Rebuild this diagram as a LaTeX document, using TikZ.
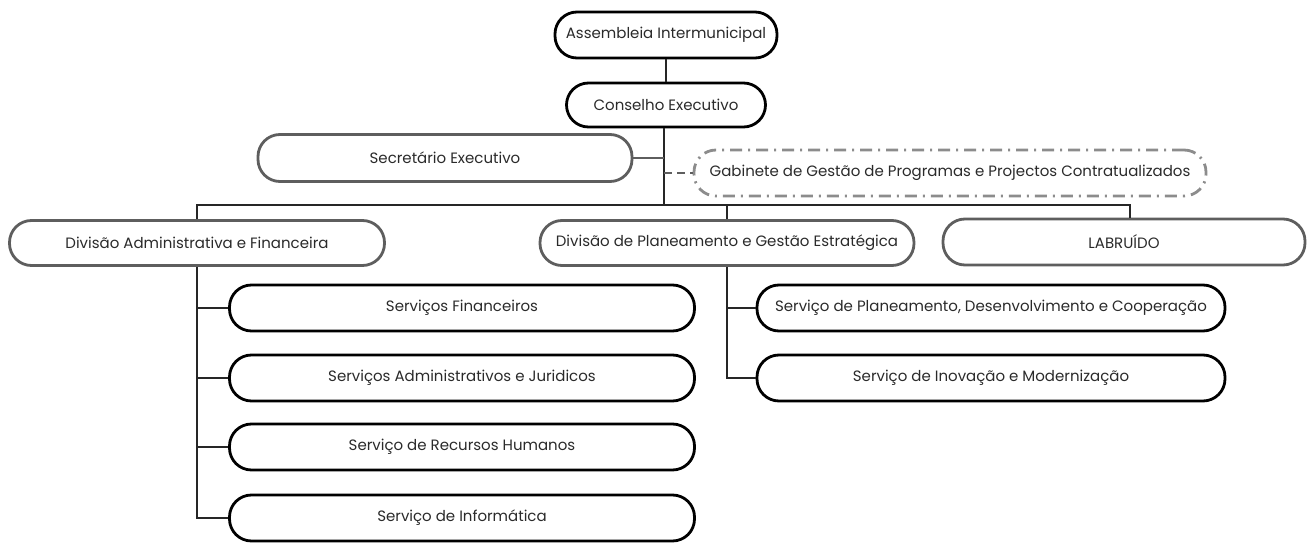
\documentclass[tikz,border=0pt]{standalone}
\usepackage{fontspec}
\setmainfont{Poppins}
\definecolor{boxgray}{HTML}{5E5E5E}
\definecolor{txt}{HTML}{2A2A2A}
\begin{document}
\begin{tikzpicture}[x=1pt,y=-1pt,
  pill/.style={draw, rectangle, rounded corners=22pt, line width=2.8pt, minimum height=46pt, inner sep=0pt, text=txt, font=\fontsize{15}{17}\selectfont},
  topbox/.style={pill, draw=black},
  graybox/.style={pill, draw=boxgray},
  childbox/.style={pill, draw=black},
  conn/.style={draw=black!85, line width=1.8pt},
  gconn/.style={draw=boxgray, line width=1.8pt},
  dconn/.style={draw=boxgray, line width=1.8pt, dash pattern=on 8pt off 5pt},
  gabstyle/.style={pill, draw=black!45, dash pattern=on 12pt off 6pt on 2pt off 6pt}
]
\useasboundingbox (0,0) rectangle (1307,545);

\node[topbox, minimum width=222pt] (ass) at (666,35) {Assembleia Intermunicipal};
\node[topbox, minimum width=199pt, minimum height=44pt] (con) at (666,105) {Conselho Executivo};
\node[graybox, minimum width=374pt, minimum height=47pt] (sec) at (445,158) {Secretário Executivo};
\node[gabstyle, minimum width=512pt] (gab) at (950,173) {Gabinete de Gestão de Programas e Projectos Contratualizados};

\node[graybox, minimum width=375pt, minimum height=45pt] (dadm) at (197,243) {Divisão Administrativa e Financeira};
\node[graybox, minimum width=374pt, minimum height=45pt] (dpl) at (727,243) {Divisão de Planeamento e Gestão Estratégica};
\node[graybox, minimum width=362pt, minimum height=46pt] (lab) at (1124,242) {LABRUÍDO};

\node[childbox, minimum width=465pt] (sf) at (462,308) {Serviços Financeiros};
\node[childbox, minimum width=465pt] (sa) at (462,378) {Serviços Administrativos e Juridicos};
\node[childbox, minimum width=465pt] (rh) at (462,447) {Serviço de Recursos Humanos};
\node[childbox, minimum width=465pt] (inf) at (462,518) {Serviço de Informática};

\node[childbox, minimum width=468pt] (spd) at (991,308) {Serviço de Planeamento, Desenvolvimento e Cooperação};
\node[childbox, minimum width=468pt] (sin) at (991,378) {Serviço de Inovação e Modernização};

\coordinate (spine) at (664,205);
\coordinate (labtop) at (1130,205);

\draw[conn] (ass) -- (con);
\draw[conn] (con.south -| spine) -- (spine);
\draw[gconn] (sec.east) -- (sec.east -| spine);
\draw[dconn] (gab.west -| spine) -- (gab.west);
\draw[conn] (dadm.north) |- (labtop) -- (labtop |- lab.north);
\draw[conn] (dpl.north) -- (dpl.north |- spine);

\draw[conn] (dadm.south) |- (sf.west);
\draw[conn] (dadm.south) |- (sa.west);
\draw[conn] (dadm.south) |- (rh.west);
\draw[conn] (dadm.south) |- (inf.west);
\draw[conn] (dpl.south) |- (spd.west);
\draw[conn] (dpl.south) |- (sin.west);
\end{tikzpicture}
\end{document}
